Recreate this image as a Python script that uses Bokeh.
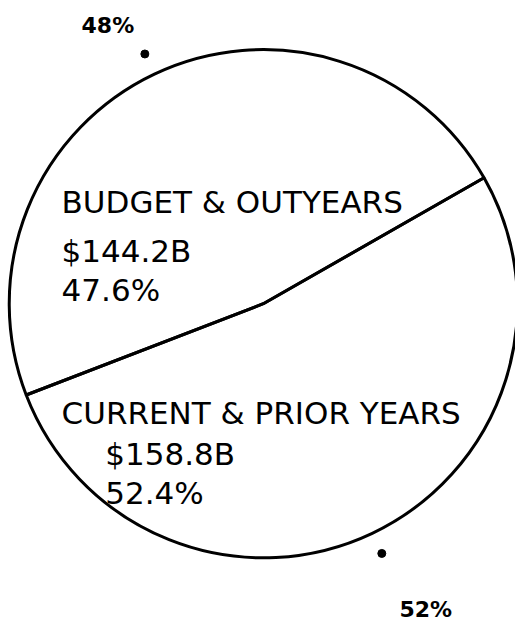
import math
from bokeh.plotting import figure
from bokeh.models import ColumnDataSource, Range1d
from bokeh.core.properties import value
from bokeh.embed import file_html
from bokeh.resources import INLINE

# ---- data ----
categories = ["BUDGET & OUTYEARS", "CURRENT & PRIOR YEARS"]
amounts_b = [144.2, 158.8]          # $ billions
percents = [47.6, 52.4]             # share of total, %
start_angle_deg = 29.7              # where the first slice begins

# ---- layout / style ----
W, H = 515, 623
SX, SY = W / 531.0, H / 639.0


def X(px):
    return px * SX


def Y(py):
    return H - py * SY


cx, cy, r = X(271), Y(311), 262 * SX
dot_r = 285 * SX
FONT = value("DejaVu Sans")

p = figure(width=W, height=H, x_range=Range1d(0, W), y_range=Range1d(0, H),
           output_backend="svg", toolbar_location=None, min_border=0,
           x_axis_location=None, y_axis_location=None)
p.grid.visible = False
p.outline_line_color = None
p.background_fill_color = "white"
p.border_fill_color = "white"

# slices
starts, ends, mids = [], [], []
a = math.radians(start_angle_deg)
for pc in percents:
    span = 2 * math.pi * pc / 100.0
    starts.append(a)
    ends.append(a + span)
    mids.append(a + span / 2)
    a += span

src = ColumnDataSource(dict(start=starts, end=ends, cat=categories))
p.wedge(x=cx, y=cy, radius=r, start_angle="start", end_angle="end",
        fill_color=None, line_color="black", line_width=3, source=src)

# dots at slice mid-angles, outside the pie
dx = [cx + dot_r * math.cos(m) for m in mids]
dy = [cy + dot_r * math.sin(m) for m in mids]
p.scatter(dx, dy, size=8, color="black")

# rounded percent labels near the dots
rounded = [f"{round(pc)}%" for pc in percents]
lab_off = [(-37, 28), (44, -56)]
p.text(x=[dx[i] + lab_off[i][0] for i in range(2)],
       y=[dy[i] + lab_off[i][1] for i in range(2)],
       text=rounded, text_font=FONT, text_font_size="22px",
       text_font_style="bold", text_align="center", text_baseline="middle",
       text_color="black")

# inner labels
name_x = [X(63), X(63)]
val_x = [X(63), X(108)]
base_y = [[207, 257, 297], [423, 465, 505]]
for i in range(2):
    lines = [categories[i], f"${amounts_b[i]:.1f}B", f"{percents[i]:.1f}%"]
    xs = [name_x[i], val_x[i], val_x[i]]
    ys = [Y(v) for v in base_y[i]]
    p.text(x=xs, y=ys, text=lines, text_font=FONT, text_font_size="31px",
           text_align="left", text_baseline="alphabetic", text_color="black")

open("out.html", "w").write(file_html(p, INLINE))
